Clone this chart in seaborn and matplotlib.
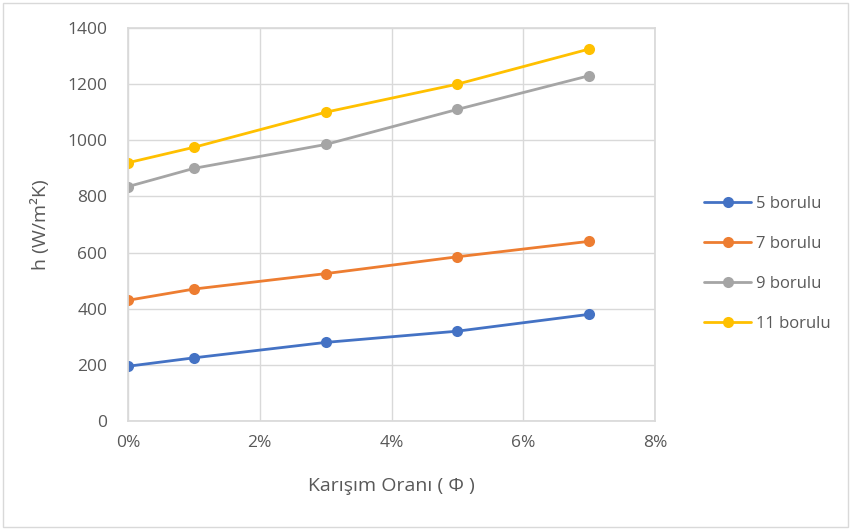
import pandas as pd
import seaborn as sns
import matplotlib.pyplot as plt
from matplotlib.ticker import PercentFormatter

# Mixing ratio (%) and heat transfer coefficient per tube count
phi = [0, 1, 3, 5, 7]
h_5 = [195, 225, 280, 320, 380]
h_7 = [430, 470, 525, 585, 640]
h_9 = [835, 900, 985, 1110, 1230]
h_11 = [920, 975, 1100, 1200, 1325]
series_names = ['5 borulu', '7 borulu', '9 borulu', '11 borulu']

data = pd.DataFrame({
    'phi': phi * 4,
    'h': h_5 + h_7 + h_9 + h_11,
    'seri': [n for n in series_names for _ in phi],
})

sns.set_theme(style='white')
plt.rcParams['font.family'] = ['Open Sans', 'DejaVu Sans']

colors = ['#4472C4', '#ED7D31', '#A5A5A5', '#FFC000']
text_color = '#595959'
grid_color = '#D9D9D9'

fig = plt.figure(figsize=(8.51, 5.31), dpi=100)
ax = fig.add_axes([128 / 851, 1 - 421 / 531, (655 - 128) / 851, (421 - 28) / 531])

sns.lineplot(ax=ax, data=data, x='phi', y='h', hue='seri', palette=colors,
             marker='o', markersize=8, markeredgewidth=0, linewidth=2)

ax.set_xlim(0, 8)
ax.set_ylim(0, 1400)
ax.set_xticks([0, 2, 4, 6, 8])
ax.set_yticks(range(0, 1401, 200))
ax.xaxis.set_major_formatter(PercentFormatter(decimals=0))
ax.grid(True, color=grid_color, linewidth=1)
ax.set_axisbelow(True)
for s in ax.spines.values():
    s.set_color(grid_color)
ax.tick_params(axis='both', colors=text_color, labelsize=12.5, length=0)
ax.tick_params(axis='y', pad=15)
ax.tick_params(axis='x', pad=10)

ax.set_xlabel('Karışım Oranı ( Φ )', fontsize=14, color=text_color, labelpad=19)
ax.set_ylabel('h (W/m²K)', fontsize=14, color=text_color, labelpad=12)

leg = ax.legend(loc='center left', bbox_to_anchor=(1.065, 0.40), frameon=False,
                fontsize=12, labelspacing=1.45, handlelength=2.8, handletextpad=0.3)
for t in leg.get_texts():
    t.set_color(text_color)

# light chart border like the original
fig.patches.append(plt.Rectangle((3 / 851, 4 / 531), 845 / 851, 524 / 531,
                                 transform=fig.transFigure, fill=False,
                                 edgecolor=grid_color, linewidth=1))

fig.savefig('out.png', dpi=100)
